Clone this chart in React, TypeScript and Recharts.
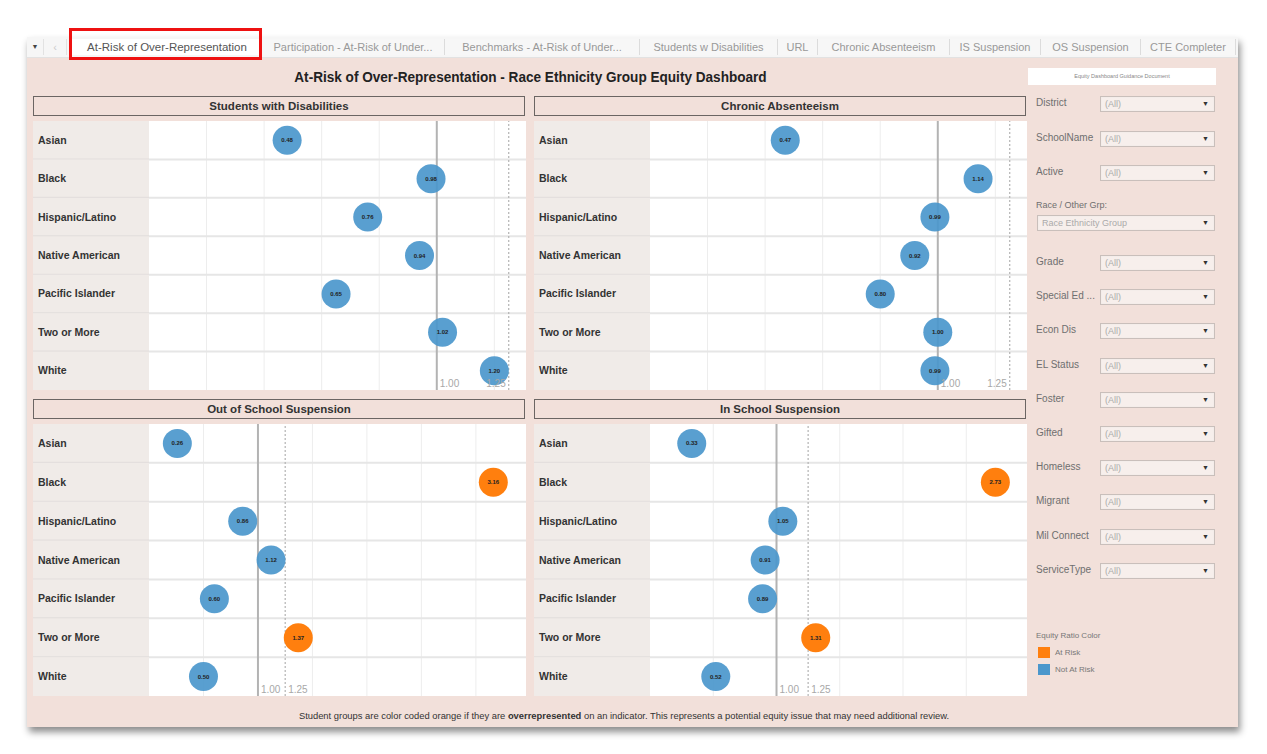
import React from 'react';
import { ScatterChart, Scatter, XAxis, YAxis, ReferenceLine } from 'recharts';

// race / ethnicity groups, top to bottom
const GROUPS = ['Asian', 'Black', 'Hispanic/Latino', 'Native American', 'Pacific Islander', 'Two or More', 'White'];

// equity ratios
const SWD_RATIO = [0.48, 0.98, 0.76, 0.94, 0.65, 1.02, 1.2];
const CHRONIC_RATIO = [0.47, 1.14, 0.99, 0.92, 0.8, 1.0, 0.99];
const OSS_RATIO = [0.26, 3.16, 0.86, 1.12, 0.6, 1.37, 0.5];
const ISS_RATIO = [0.33, 2.73, 1.05, 0.91, 0.89, 1.31, 0.52];

const SMALL_GRID = [0.2, 0.4, 0.6, 0.8, 1.2];
const WIDE_GRID = [0.5, 1.5, 2, 2.5, 3];

const TABS = [
  'At-Risk of Over-Representation',
  'Participation - At-Risk of Under...',
  'Benchmarks - At-Risk of Under...',
  'Students w Disabilities',
  'URL',
  'Chronic Absenteeism',
  'IS Suspension',
  'OS Suspension',
  'CTE Completer',
];
const TAB_WIDTHS = [190, 183, 195, 138, 40, 132, 91, 100, 95];

const FILTERS_TOP = ['District', 'SchoolName', 'Active'];
const FILTERS_BOTTOM = ['Grade', 'Special Ed ...', 'Econ Dis', 'EL Status', 'Foster', 'Gifted', 'Homeless', 'Migrant', 'Mil Connect', 'ServiceType'];

const BLUE = '#4b97cc';
const ORANGE = '#ff7f0e';
const BG = '#f2e0da';
const LABEL_BG = '#f0ebe8';
const RISK = 1.25;
const LABEL_W = 116;
const FONT = 'Arial, "Liberation Sans", sans-serif';

const Bubble = (p: any) => {
  const { cx, cy, payload } = p;
  const risk = payload.value > RISK;
  return (
    <g>
      <circle cx={cx} cy={cy} r={14.5} fill={risk ? ORANGE : BLUE} fillOpacity={risk ? 1 : 0.92} />
      <text x={cx} y={cy} dy={2} textAnchor="middle" fontSize={6} fontWeight="bold" fill="#222" fontFamily={FONT}>
        {payload.value.toFixed(2)}
      </text>
    </g>
  );
};

const RowLabel = (p: any) => {
  const { x, y, payload, rowH } = p;
  const left = x - LABEL_W;
  return (
    <g>
      <rect x={left} y={y - rowH / 2} width={LABEL_W} height={rowH} fill={LABEL_BG} />
      {payload.value < GROUPS.length - 1 && (
        <line x1={left} x2={x} y1={y + rowH / 2} y2={y + rowH / 2} stroke="#e2dedc" strokeWidth={2} />
      )}
      <text x={left + 5} y={y} dy={3.5} fontSize={10.5} fontWeight="bold" fill="#333" fontFamily={FONT}>
        {GROUPS[payload.value]}
      </text>
    </g>
  );
};

type PanelProps = {
  title: string;
  values: number[];
  xMax: number;
  grid: number[];
  left: number;
  top: number;
  height: number;
  riskLabelRight?: boolean;
};

const Panel = ({ title, values, xMax, grid, left, top, height, riskLabelRight }: PanelProps) => {
  const width = 493;
  const data = values.map((v, i) => ({ row: i, value: v }));
  const rowH = height / GROUPS.length;
  const tickLabel = { fontSize: 10, fill: '#a8a8a8', fontFamily: FONT, offset: 3 };
  return (
    <>
      <div
        style={{
          position: 'absolute', left, top, width: width - 3, height: 18,
          border: '1.5px solid #6b6563', background: BG, textAlign: 'center',
          fontFamily: FONT, fontWeight: 'bold', fontSize: 11.5, lineHeight: '18px', color: '#333',
        }}
      >
        {title}
      </div>
      <div style={{ position: 'absolute', left, top: top + 25, width, height, background: '#fff' }}>
        <ScatterChart width={width} height={height} margin={{ top: 0, right: 0, bottom: 0, left: 0 }}>
          <XAxis type="number" dataKey="value" domain={[0, xMax]} hide allowDataOverflow />
          <YAxis
            type="number"
            dataKey="row"
            domain={[-0.5, GROUPS.length - 0.5]}
            reversed
            ticks={GROUPS.map((_, i) => i)}
            interval={0}
            width={LABEL_W}
            axisLine={false}
            tickLine={false}
            tickSize={0}
            tickMargin={0}
            allowDataOverflow
            tick={(t: any) => <RowLabel {...t} rowH={rowH} />}
          />
          {grid.map((g) => (
            <ReferenceLine key={'g' + g} x={g} stroke="#ededed" strokeWidth={1} />
          ))}
          {GROUPS.slice(1).map((_, i) => (
            <ReferenceLine key={'r' + i} y={i + 0.5} stroke="#e6e6e6" strokeWidth={2} />
          ))}
          <ReferenceLine
            x={1}
            stroke="#b3b3b3"
            strokeWidth={2}
            label={{ value: '1.00', position: 'insideBottomLeft', ...tickLabel }}
          />
          <ReferenceLine
            x={RISK}
            stroke="#b3b3b3"
            strokeWidth={1.2}
            strokeDasharray="2 2"
            label={{ value: '1.25', position: riskLabelRight ? 'insideBottomRight' : 'insideBottomLeft', ...tickLabel }}
          />
          <Scatter data={data} isAnimationActive={false} shape={Bubble} />
        </ScatterChart>
      </div>
    </>
  );
};

const Dropdown = ({ left, top, width, text }: { left: number; top: number; width: number; text: string }) => (
  <div
    style={{
      position: 'absolute', left, top, width, height: 16, boxSizing: 'border-box',
      border: '1px solid #c9bfbb', background: '#f7efec', fontFamily: FONT, fontSize: 9,
      color: '#aaa', lineHeight: '14px', paddingLeft: 4, boxShadow: 'inset 0 0 1px #ddd',
    }}
  >
    {text}
    <span style={{ position: 'absolute', right: 5, top: 0, fontSize: 7, color: '#333' }}>▼</span>
  </div>
);

const FilterRow = ({ label, top }: { label: string; top: number }) => (
  <>
    <div style={{ position: 'absolute', left: 1036, top: top - 7, fontFamily: FONT, fontSize: 10, color: '#6f6f6f' }}>{label}</div>
    <Dropdown left={1100} top={top - 8} width={115} text="(All)" />
  </>
);

export default function App() {
  let x = 72;
  return (
    <div style={{ position: 'absolute', left: 0, top: 0, width: 1267, height: 754, background: '#fff', overflow: 'hidden' }}>
      {/* dashboard frame */}
      <div
        style={{
          position: 'absolute', left: 27, top: 37, width: 1211, height: 690, background: BG,
          boxShadow: '2px 5px 7px rgba(0,0,0,0.45)',
        }}
      />
      {/* tab strip */}
      <div style={{ position: 'absolute', left: 27, top: 37, width: 1211, height: 20, background: '#f6f6f6', borderBottom: '1px solid #e2e2e2' }} />
      <div style={{ position: 'absolute', left: 29, top: 39, width: 12, height: 16, fontSize: 7, color: '#444', textAlign: 'center', lineHeight: '16px', fontFamily: FONT }}>▼</div>
      <div style={{ position: 'absolute', left: 43, top: 39, width: 22, height: 16, fontSize: 11, color: '#ccc', textAlign: 'center', lineHeight: '16px', fontFamily: FONT, borderLeft: '1px solid #e2e2e2', borderRight: '1px solid #e2e2e2' }}>‹</div>
      {TABS.map((t, i) => {
        const left = x;
        x += TAB_WIDTHS[i];
        return (
          <div
            key={t}
            style={{
              position: 'absolute', left, top: 39, width: TAB_WIDTHS[i] - (i === 0 ? 0 : 1), height: 16,
              background: i === 0 ? '#fff' : '#f7f7f7', borderRight: i === 0 ? 'none' : '1px solid #dcdcdc',
              fontFamily: FONT, fontSize: i === 0 ? 11.5 : 11, color: i === 0 ? '#555' : '#999', textAlign: 'center',
              lineHeight: '16px', whiteSpace: 'nowrap', overflow: 'hidden',
            }}
          >
            {t}
          </div>
        );
      })}
      <div style={{ position: 'absolute', left: 69, top: 28, width: 187, height: 26, border: '3px solid #ee1111' }} />

      {/* title */}
      <div
        style={{
          position: 'absolute', left: 33, top: 69, width: 994, textAlign: 'center', fontFamily: FONT,
          fontWeight: 'bold', fontSize: 14, color: '#222',
        }}
      >
        <span style={{ display: 'inline-block', transform: 'scaleX(0.97)' }}>
          At-Risk of Over-Representation - Race Ethnicity Group Equity Dashboard
        </span>
      </div>

      <Panel title="Students with Disabilities" values={SWD_RATIO} xMax={1.31} grid={SMALL_GRID} left={33} top={96} height={269} riskLabelRight />
      <Panel title="Chronic Absenteeism" values={CHRONIC_RATIO} xMax={1.31} grid={SMALL_GRID} left={534} top={96} height={269} riskLabelRight />
      <Panel title="Out of School Suspension" values={OSS_RATIO} xMax={3.46} grid={WIDE_GRID} left={33} top={399} height={272} />
      <Panel title="In School Suspension" values={ISS_RATIO} xMax={2.98} grid={WIDE_GRID} left={534} top={399} height={272} />

      {/* side panel */}
      <div
        style={{
          position: 'absolute', left: 1028, top: 68, width: 188, height: 17, background: '#fff',
          fontFamily: FONT, fontSize: 5.5, color: '#888', textAlign: 'center', lineHeight: '17px',
        }}
      >
        Equity Dashboard Guidance Document
      </div>
      {FILTERS_TOP.map((f, i) => (
        <FilterRow key={f} label={f} top={104 + i * 34.5} />
      ))}
      <div style={{ position: 'absolute', left: 1036, top: 200, fontFamily: FONT, fontSize: 9, color: '#6f6f6f' }}>Race / Other Grp:</div>
      <Dropdown left={1037} top={215} width={178} text="Race Ethnicity Group" />
      {FILTERS_BOTTOM.map((f, i) => (
        <FilterRow key={f} label={f} top={263 + i * 34.2} />
      ))}
      <div style={{ position: 'absolute', left: 1036, top: 631, fontFamily: FONT, fontSize: 8, color: '#777' }}>Equity Ratio Color</div>
      <div style={{ position: 'absolute', left: 1038, top: 647, width: 12, height: 11, background: ORANGE }} />
      <div style={{ position: 'absolute', left: 1055, top: 648, fontFamily: FONT, fontSize: 8, color: '#777' }}>At Risk</div>
      <div style={{ position: 'absolute', left: 1038, top: 664, width: 12, height: 11, background: BLUE }} />
      <div style={{ position: 'absolute', left: 1055, top: 665, fontFamily: FONT, fontSize: 8, color: '#777' }}>Not At Risk</div>

      {/* footer note */}
      <div
        style={{
          position: 'absolute', left: 224, top: 710, width: 800, textAlign: 'center', fontFamily: FONT,
          fontSize: 9.4, color: '#333', whiteSpace: 'nowrap',
        }}
      >
        Student groups are color coded orange if they are <b>overrepresented</b> on an indicator. This represents a potential equity issue that may need additional review.
      </div>
    </div>
  );
}
